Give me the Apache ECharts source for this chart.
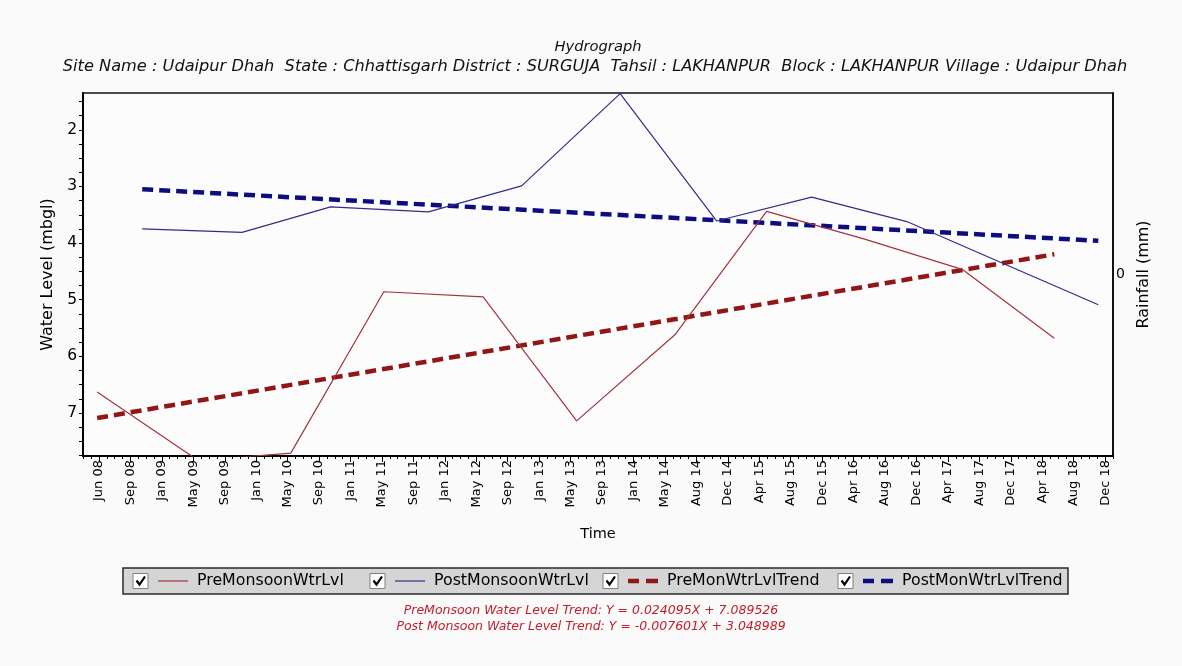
<!DOCTYPE html>
<html>
<head>
<meta charset="utf-8">
<script src="https://cdn.jsdelivr.net/npm/echarts@6/dist/echarts.min.js"></script>
<style>
  html, body { margin: 0; padding: 0; background: #fafafa; }
  #chart { width: 1182px; height: 666px; }
</style>
</head>
<body>
<div id="chart"></div>
<script>
// ---------------- DATA ----------------
const xTickLabels = ['Jun 08','Sep 08','Jan 09','May 09','Sep 09','Jan 10','May 10','Sep 10','Jan 11','May 11','Sep 11',
  'Jan 12','May 12','Sep 12','Jan 13','May 13','Sep 13','Jan 14','May 14','Aug 14','Dec 14','Apr 15','Aug 15','Dec 15',
  'Apr 16','Aug 16','Dec 16','Apr 17','Aug 17','Dec 17','Apr 18','Aug 18','Dec 18'];
const yTickLabels = [2, 3, 4, 5, 6, 7];

const preDates  = ['2008-05-25','2009-06-15','2010-06-03','2011-05-24','2012-06-06','2013-05-29','2014-06-08','2015-05-24','2016-06-01','2017-06-11','2018-05-26'];
const preLevels = [6.63, 7.84, 7.71, 4.86, 4.95, 7.14, 5.62, 3.44, 3.93, 4.47, 5.68];

const postDates  = ['2008-11-13','2009-11-29','2010-11-02','2011-11-10','2012-10-31','2013-11-11','2014-11-14','2015-11-12','2016-11-09','2017-11-12','2018-11-10'];
const postLevels = [3.75, 3.81, 3.36, 3.45, 2.99, 1.36, 3.61, 3.19, 3.62, 4.36, 5.09];

// trend equations as printed: [slope, intercept], X in months
const preTrendCoef  = [0.024095, 7.089526];
const postTrendCoef = [-0.007601, 3.048989];

const seriesNames = ['PreMonsoonWtrLvl', 'PostMonsoonWtrLvl', 'PreMonWtrLvlTrend', 'PostMonWtrLvlTrend'];
const titleText = 'Hydrograph';
const subtitleText = 'Site Name : Udaipur Dhah  State : Chhattisgarh District : SURGUJA  Tahsil : LAKHANPUR  Block : LAKHANPUR Village : Udaipur Dhah';
const eqTexts = ['PreMonsoon Water Level Trend: Y = 0.024095X + 7.089526',
                 'Post Monsoon Water Level Trend: Y = -0.007601X + 3.048989'];

// ---------------- HELPERS ----------------
const ORIGIN = Date.UTC(2008, 5, 1);
const TICK_DAYS = 120;
function dayNum(s) { const p = s.split('-').map(Number); return (Date.UTC(p[0], p[1] - 1, p[2]) - ORIGIN) / 86400000; }
const DAYS_PER_MONTH = 30.4375;

const preData = preDates.map((d, i) => [dayNum(d), preLevels[i]]);
const postData = postDates.map((d, i) => [dayNum(d), postLevels[i]]);
function trend(coef, dates) {
  const d0 = dayNum(dates[0]), d1 = dayNum(dates[dates.length - 1]);
  const f = d => coef[1] - coef[0] * (d - d0) / DAYS_PER_MONTH;
  return [[d0, f(d0)], [d1, f(d1)]];
}
const preTrend = trend(preTrendCoef, preDates);
const postTrend = trend(postTrendCoef, postDates);

const majorX = xTickLabels.map((_, i) => i * TICK_DAYS);
const minorX = []; for (let v = -60; v <= 3870; v += 30) minorX.push(v);
const minorY = []; for (let v = 1.5; v <= 7.75; v += 0.25) minorY.push(+v.toFixed(2));

const FONT = 'Liberation Sans, Arial, sans-serif';
const WFONT = 'DejaVu Sans, Verdana, sans-serif';
const C_PRE = '#a3343c', C_POST = '#2e2e8e', C_PRET = '#921616', C_POSTT = '#0d0d80';

const chart = echarts.init(document.getElementById('chart'), null, { renderer: 'canvas' });

// legend graphics
const LY = 568, LH = 26;
const legendItems = [
  { cb: 133, l0: 158, l1: 188, tx: 197, color: C_PRE, dashed: false },
  { cb: 370, l0: 395, l1: 425, tx: 434, color: C_POST, dashed: false },
  { cb: 603, l0: 628, l1: 658, tx: 667, color: C_PRET, dashed: true },
  { cb: 838, l0: 863, l1: 893, tx: 902, color: C_POSTT, dashed: true }
];
const g = [];
g.push({ type: 'rect', shape: { x: 123, y: LY, width: 945, height: LH }, style: { fill: '#d5d5d5', stroke: '#2a2a2a', lineWidth: 1.5 } });
legendItems.forEach((it, i) => {
  const cy = LY + LH / 2;
  g.push({ type: 'rect', shape: { x: it.cb, y: cy - 7.5, width: 15, height: 15 }, style: { fill: '#ffffff', stroke: '#808080', lineWidth: 1 } });
  g.push({ type: 'polyline', shape: { points: [[it.cb + 3.5, cy - 0.5], [it.cb + 6.5, cy + 3.5], [it.cb + 12, cy - 4.5]] }, style: { stroke: '#000', lineWidth: 2.2, fill: null } });
  if (it.dashed) {
    g.push({ type: 'line', shape: { x1: it.l0, y1: cy, x2: it.l0 + 11, y2: cy }, style: { stroke: it.color, lineWidth: 4.5 } });
    g.push({ type: 'line', shape: { x1: it.l0 + 18, y1: cy, x2: it.l1, y2: cy }, style: { stroke: it.color, lineWidth: 4.5 } });
  } else {
    g.push({ type: 'line', shape: { x1: it.l0, y1: cy, x2: it.l1, y2: cy }, style: { stroke: it.color, lineWidth: 1.2 } });
  }
  g.push({ type: 'text', x: it.tx, y: cy, style: { text: seriesNames[i], fill: '#000', font: '15.8px ' + WFONT, textVerticalAlign: 'middle', textAlign: 'left' } });
});
g.push({ type: 'text', x: 598, y: 47, style: { text: titleText, fill: '#111', font: 'italic 14.7px ' + WFONT, textAlign: 'center', textVerticalAlign: 'middle' } });
g.push({ type: 'text', x: 595, y: 67, style: { text: subtitleText, fill: '#111', font: 'italic 16.2px ' + WFONT, textAlign: 'center', textVerticalAlign: 'middle' } });
g.push({ type: 'text', x: 591, y: 611, style: { text: eqTexts[0], fill: '#c0202c', font: 'italic 12.5px ' + WFONT, textAlign: 'center', textVerticalAlign: 'middle' } });
g.push({ type: 'text', x: 591, y: 627, style: { text: eqTexts[1], fill: '#c0202c', font: 'italic 12.5px ' + WFONT, textAlign: 'center', textVerticalAlign: 'middle' } });

const option = {
  backgroundColor: '#fafafa',
  animation: false,
  textStyle: { fontFamily: FONT },
  grid: { left: 83, right: 69, top: 93, bottom: 210, show: true, backgroundColor: '#fcfcfc', borderColor: '#111', borderWidth: 1.5 },
  xAxis: [
    {
      type: 'value', min: -61, max: 3870, position: 'bottom',
      name: 'Time', nameLocation: 'middle', nameGap: 71,
      nameTextStyle: { fontSize: 14.5, color: '#000', fontFamily: WFONT },
      axisLine: { show: true, onZero: false, lineStyle: { color: '#000', width: 2 } },
      axisTick: { show: true, customValues: majorX, length: 6, lineStyle: { color: '#000', width: 1 } },
      axisLabel: { customValues: majorX, rotate: 90, fontSize: 13, color: '#000', margin: 4, fontFamily: WFONT,
        formatter: v => xTickLabels[Math.round(v / TICK_DAYS)] },
      splitLine: { show: false }
    },
    {
      type: 'value', min: -61, max: 3870, position: 'bottom',
      axisLine: { show: false, onZero: false },
      axisTick: { show: true, customValues: minorX, length: 3, lineStyle: { color: '#000', width: 1 } },
      axisLabel: { show: false },
      splitLine: { show: false }
    }
  ],
  yAxis: [
    {
      type: 'value', inverse: true, min: 1.35, max: 7.76, position: 'left',
      name: 'Water Level (mbgl)', nameLocation: 'middle', nameGap: 19, nameRotate: 90,
      nameTextStyle: { fontSize: 16, color: '#000', fontFamily: WFONT },
      axisLine: { show: true, onZero: false, lineStyle: { color: '#000', width: 2 } },
      axisTick: { show: true, customValues: minorY, length: 4, lineStyle: { color: '#000' } },
      axisLabel: { customValues: yTickLabels, fontSize: 15.5, color: '#000', margin: 6, fontFamily: WFONT },
      splitLine: { show: false }
    },
    {
      type: 'value', min: -1, max: 1, position: 'right',
      name: 'Rainfall (mm)', nameLocation: 'middle', nameGap: 18, nameRotate: 90,
      nameTextStyle: { fontSize: 16, color: '#000', fontFamily: WFONT },
      axisLine: { show: true, onZero: false, lineStyle: { color: '#000', width: 1.5 } },
      axisTick: { show: false },
      axisLabel: { customValues: [0], fontSize: 14, color: '#000', margin: 3, fontFamily: WFONT },
      splitLine: { show: false }
    }
  ],
  series: [
    { name: seriesNames[2], type: 'line', data: preTrend, symbol: 'none', lineStyle: { color: C_PRET, width: 4.5, type: [11, 6], cap: 'butt' }, z: 2 },
    { name: seriesNames[3], type: 'line', data: postTrend, symbol: 'none', lineStyle: { color: C_POSTT, width: 4.5, type: [11, 6], cap: 'butt' }, z: 2 },
    { name: seriesNames[0], type: 'line', data: preData, symbol: 'none', lineStyle: { color: C_PRE, width: 1.2 }, z: 3 },
    { name: seriesNames[1], type: 'line', data: postData, symbol: 'none', lineStyle: { color: C_POST, width: 1.2 }, z: 3 }
  ],
  graphic: g
};
chart.setOption(option);
</script>
</body>
</html>
